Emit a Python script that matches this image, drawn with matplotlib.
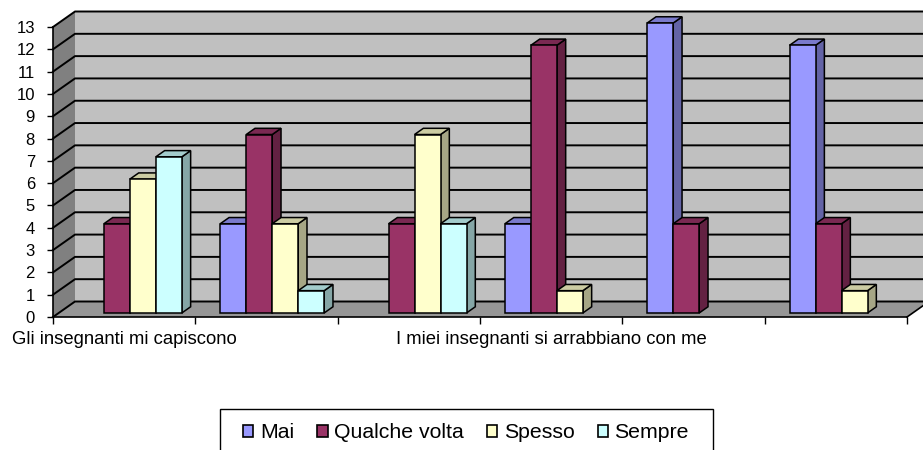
import numpy as np
import matplotlib.pyplot as plt
import matplotlib.patches as mpatches
from matplotlib.colors import to_rgb

plt.rcParams['font.family'] = ['Liberation Sans', 'DejaVu Sans']

# data
categories = ['Gli insegnanti mi capiscono', '', '',
              'I miei insegnanti si arrabbiano con me', '', '']
series = ['Mai', 'Qualche volta', 'Spesso', 'Sempre']
mai = [0, 4, 0, 4, 13, 12]
qualche = [4, 8, 4, 12, 4, 4]
spesso = [6, 4, 8, 1, 0, 1]
sempre = [7, 1, 4, 0, 0, 0]
colors = ['#9999FF', '#993366', '#FFFFCC', '#CCFFFF']
yticks = list(range(0, 14))

values = [mai, qualche, spesso, sempre]
ncat = len(categories)
ymax = yticks[-1]

W, H = 923, 450
fig = plt.figure(figsize=(W / 100, H / 100), dpi=100)
ax = fig.add_axes([53 / W, (H - 317) / H, 854 / W, 290 / H])
ax.set_xlim(0, ncat)
ax.set_ylim(0, ymax)
ax.patch.set_visible(False)

# depth of the 3d box in data units
DX = 22 / 854 * ncat
DY = 15.5 / 290 * ymax

# walls and floor
ax.add_patch(mpatches.Polygon([(DX, DY), (ncat + DX, DY), (ncat + DX, ymax + DY), (DX, ymax + DY)],
                              closed=True, fc='#C0C0C0', ec='none', zorder=0, clip_on=False))
ax.add_patch(mpatches.Polygon([(0, 0), (DX, DY), (DX, ymax + DY), (0, ymax)],
                              closed=True, fc='#808080', ec='none', zorder=0, clip_on=False))
ax.add_patch(mpatches.Polygon([(0, 0), (ncat, 0), (ncat + DX, DY), (DX, DY)],
                              closed=True, fc='#969696', ec='none', zorder=0, clip_on=False))
ax.plot([ncat, ncat + DX], [0, DY], color='black', lw=1.2, zorder=1, clip_on=False)

# gridlines on back and side walls
for v in yticks:
    ax.plot([0, DX, ncat + DX], [v, v + DY, v + DY], color='black', lw=1.4,
            zorder=0.5, clip_on=False)

# bars
gap = 0.135
w = (1 - 2 * gap) / len(series)
f0 = 0.26   # front of bars (fraction of depth)
bd = 0.40   # bar depth (fraction of depth)
z = 2
for i in range(ncat):
    for k, vals in enumerate(values):
        v = vals[i]
        if v == 0:
            continue
        c = np.array(to_rgb(colors[k]))
        x0 = i + gap + k * w + f0 * DX
        x1 = x0 + w
        y0 = f0 * DY
        y1 = y0 + v
        side = [(x1, y0), (x1 + bd * DX, y0 + bd * DY), (x1 + bd * DX, y1 + bd * DY), (x1, y1)]
        top = [(x0, y1), (x1, y1), (x1 + bd * DX, y1 + bd * DY), (x0 + bd * DX, y1 + bd * DY)]
        ax.add_patch(mpatches.Polygon(side, closed=True, fc=c * 0.65, ec='black', lw=1.1,
                                      zorder=z, clip_on=False))
        ax.add_patch(mpatches.Polygon(top, closed=True, fc=c * 0.8, ec='black', lw=1.1,
                                      zorder=z + 1, clip_on=False))
        ax.bar(x0, v, width=w, bottom=y0, align='edge', color=c, edgecolor='black',
               linewidth=1.1, zorder=z + 2, clip_on=False)
        z += 3

# axes
for s in ['top', 'right']:
    ax.spines[s].set_visible(False)
for s in ['left', 'bottom']:
    ax.spines[s].set_linewidth(1.2)
    ax.spines[s].set_zorder(z + 5)
ax.set_yticks(yticks)
ax.tick_params(axis='y', direction='out', length=4, width=1, pad=9, labelsize=12)
ax.set_xticks(np.arange(ncat + 1))
ax.set_xticklabels([])
ax.set_xticks(np.arange(ncat) + 0.5, minor=True)
ax.set_xticklabels(categories, minor=True)
ax.tick_params(axis='x', which='major', direction='out', length=5, width=1)
ax.tick_params(axis='x', which='minor', length=0, pad=10, labelsize=13.3)

# legend
handles = [mpatches.Patch(facecolor=colors[k], edgecolor='black', linewidth=1.2, label=series[k])
           for k in range(len(series))]
fig.legend(handles=handles, loc='center', ncol=4, frameon=False,
           bbox_to_anchor=(466 / W, 1 - 433 / H), fontsize=15.3,
           handlelength=0.48, handleheight=0.48, handletextpad=0.3, columnspacing=1.1)
fig.add_artist(mpatches.Rectangle((220 / W, -10 / H), 493 / W, (H - 409 + 10) / H,
                                  transform=fig.transFigure, fill=False, ec='black', lw=1.0))

fig.savefig('out.png', dpi=100)
